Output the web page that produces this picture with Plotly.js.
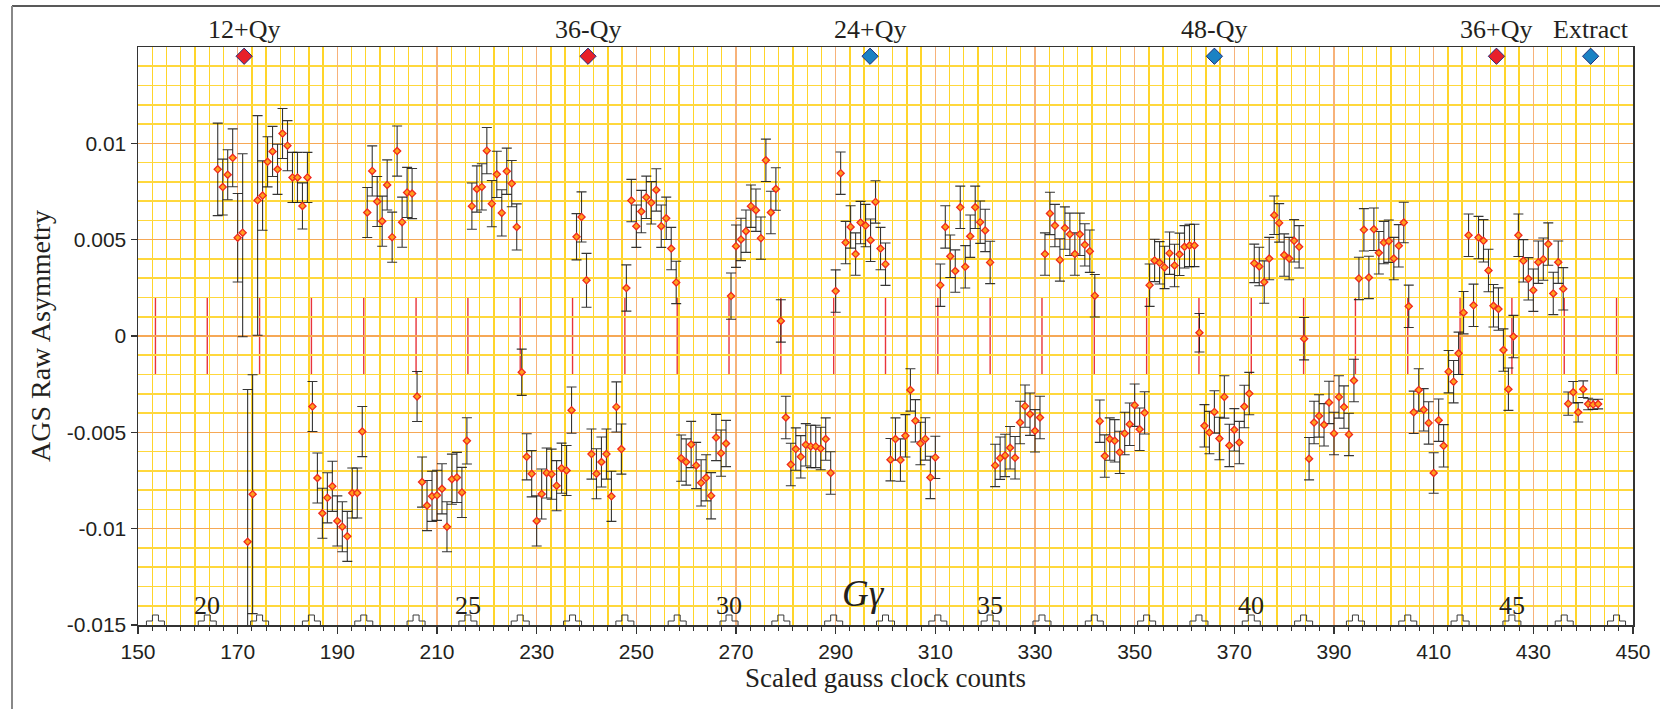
<!DOCTYPE html>
<html>
<head>
<meta charset="utf-8">
<script src="https://cdn.plot.ly/plotly-3.0.1.min.js"></script>
<style>
html,body{margin:0;padding:0;background:#ffffff;}
#chart{width:1660px;height:709px;}
</style>
</head>
<body>
<div id="chart"></div>
<script>
// ---- data ----
const clockCounts = [
166,167,168,169,170,171,172,173,174,175,
176,177,178,179,180,181,182,183,184,185,
186,187,188,189,190,191,192,193,194,195,
196,197,198,199,200,201,202,203,204,205,
206,207,208,209,210,211,212,213,214,215,
216,217,218,219,220,221,222,223,224,225,
226,227,228,229,230,231,232,233,234,235,
236,237,238,239,240,241,242,243,244,245,
246,247,248,249,250,251,252,253,254,255,
256,257,258,259,260,261,262,263,264,265,
266,267,268,269,270,271,272,273,274,275,
276,277,278,279,280,281,282,283,284,285,
286,287,288,289,290,291,292,293,294,295,
296,297,298,299,300,301,302,303,304,305,
306,307,308,309,310,311,312,313,314,315,
316,317,318,319,320,321,322,323,324,325,
326,327,328,329,330,331,332,333,334,335,
336,337,338,339,340,341,342,343,344,345,
346,347,348,349,350,351,352,353,354,355,
356,357,358,359,360,361,362,363,364,365,
366,367,368,369,370,371,372,373,374,375,
376,377,378,379,380,381,382,383,384,385,
386,387,388,389,390,391,392,393,394,395,
396,397,398,399,400,401,402,403,404,405,
406,407,408,409,410,411,412,413,414,415,
416,417,418,419,420,421,422,423,424,425,
426,427,428,429,430,431,432,433,434,435,
436,437,438,439,440,441,442,443
];
const asymmetry = [
0.00865,0.00773,0.00837,0.00925,0.0051,0.00536,-0.01068,-0.00821,0.00704,0.00729,
0.00904,0.00958,0.00865,0.01051,0.00988,0.00823,0.00823,0.00675,0.00823,-0.00366,
-0.00737,-0.0092,-0.0084,-0.0078,-0.0096,-0.0099,-0.0104,-0.00815,-0.00815,-0.00496,
0.00641,0.00857,0.00698,0.00596,0.00784,0.00513,0.0096,0.00591,0.00745,0.00739,
-0.00314,-0.00758,-0.0088,-0.00832,-0.00827,-0.00793,-0.0099,-0.00743,-0.00734,-0.00812,
-0.00544,0.00674,0.00763,0.00774,0.00962,0.00687,0.00839,0.00639,0.00855,0.00791,
0.00566,-0.00188,-0.00627,-0.00715,-0.0096,-0.0082,-0.00711,-0.00717,-0.00777,-0.00686,
-0.00698,-0.00385,0.00515,0.00618,0.00289,-0.00613,-0.00715,-0.00654,-0.00613,-0.00832,
-0.00368,-0.00587,0.00249,0.00703,0.0057,0.00646,0.0072,0.00691,0.00758,0.0057,
0.00611,0.00454,0.00278,-0.00634,-0.00654,-0.00563,-0.00672,-0.00762,-0.00736,-0.00829,
-0.00527,-0.00608,-0.00558,0.00207,0.00466,0.00501,0.00544,0.00674,0.00653,0.00508,
0.00912,0.00641,0.00763,0.00078,-0.00423,-0.00667,-0.00587,-0.00627,-0.00565,-0.00573,
-0.00573,-0.00584,-0.00535,-0.00711,0.00233,0.00845,0.00485,0.00566,0.00425,0.00589,
0.00573,0.00497,0.00696,0.00454,0.00373,-0.00642,-0.00535,-0.00644,-0.00518,-0.0028,
-0.0044,-0.00558,-0.00534,-0.00734,-0.0063,0.00264,0.00566,0.00414,0.00337,0.00668,
0.00359,0.00518,0.00668,0.00591,0.00548,0.00382,-0.00672,-0.00634,-0.0062,-0.0058,
-0.00632,-0.00449,-0.00364,-0.00406,-0.00492,-0.00423,0.00425,0.00636,0.00573,0.00395,
0.0056,0.00528,0.00425,0.00528,0.00473,0.0044,0.00209,-0.00442,-0.00623,-0.00535,
-0.00544,-0.00604,-0.00506,-0.00458,-0.00359,-0.00484,-0.00399,0.00264,0.00392,0.0038,
0.00356,0.0043,0.00366,0.00424,0.00463,0.0047,0.0047,0.00017,-0.00466,-0.00501,
-0.00394,-0.00532,-0.00316,-0.00568,-0.00487,-0.00553,-0.00366,-0.00299,0.00377,0.00361,
0.0028,0.00402,0.00627,0.00587,0.0042,0.00402,0.00494,0.00463,-0.00014,-0.00637,
-0.00449,-0.00415,-0.00461,-0.00345,-0.00506,-0.00316,-0.00369,-0.00511,-0.00231,0.00299,
0.00551,0.00304,0.00554,0.00432,0.00485,0.00492,0.00402,0.00468,0.00589,0.00154,
-0.00396,-0.0028,-0.00383,-0.00451,-0.00711,-0.00437,-0.0057,-0.00185,-0.00237,-0.0009,
0.00121,0.00523,0.00159,0.00511,0.00494,0.0034,0.00157,0.0014,-0.00073,-0.00276,
-0.00003,0.00523,0.0039,0.00297,0.00238,0.00383,0.00399,0.00477,0.00221,0.00383,
0.00245,-0.00351,-0.00292,-0.00396,-0.00276,-0.00353,-0.00356,-0.00353
];
const asymErr = [
0.0024,0.00145,0.0013,0.0015,0.0023,0.0041,0.0079,0.0062,0.0044,0.0018,
0.0013,0.0013,0.0013,0.0013,0.0013,0.0013,0.0013,0.0012,0.0013,0.0013,
0.0013,0.0013,0.0013,0.0013,0.0013,0.0013,0.0013,0.0013,0.0013,0.0013,
0.0013,0.0013,0.0013,0.0013,0.0013,0.0013,0.0013,0.0013,0.0013,0.0013,
0.0013,0.0013,0.0013,0.0013,0.0013,0.0013,0.0013,0.0013,0.0013,0.0013,
0.0012,0.0012,0.0012,0.0012,0.0012,0.0012,0.0012,0.0012,0.0012,0.0012,
0.0012,0.0012,0.0012,0.0012,0.0013,0.0013,0.0013,0.0013,0.0013,0.0013,
0.0013,0.0012,0.0012,0.0013,0.0014,0.0013,0.0013,0.0013,0.0013,0.0013,
0.0013,0.0013,0.0012,0.0011,0.0011,0.0011,0.0011,0.0011,0.0011,0.0011,
0.0011,0.0011,0.0011,0.0012,0.0012,0.0012,0.0012,0.0012,0.0012,0.0012,
0.0012,0.0012,0.0012,0.0012,0.0011,0.0011,0.0011,0.0011,0.0011,0.0011,
0.0011,0.0011,0.0011,0.0011,0.0011,0.0011,0.0011,0.0011,0.0011,0.0011,
0.0011,0.0011,0.0011,0.0011,0.0011,0.0011,0.0011,0.0011,0.0011,0.0011,
0.0011,0.0011,0.0011,0.0011,0.0011,0.0011,0.0011,0.0011,0.0011,0.0011,
0.0011,0.0011,0.0011,0.0011,0.0011,0.0011,0.0011,0.0011,0.0011,0.0011,
0.0011,0.0011,0.0011,0.0011,0.0011,0.0011,0.0011,0.0011,0.0011,0.0011,
0.0011,0.0011,0.0011,0.0011,0.0011,0.0011,0.0011,0.0011,0.0011,0.0011,
0.0011,0.0011,0.0011,0.0011,0.0011,0.0011,0.0011,0.0011,0.0011,0.0011,
0.0011,0.0011,0.0011,0.0011,0.0011,0.0011,0.0011,0.0011,0.0011,0.0011,
0.0011,0.0011,0.0011,0.0011,0.0011,0.0011,0.0011,0.001,0.0011,0.0011,
0.0011,0.0011,0.0011,0.0011,0.0011,0.0011,0.0011,0.0011,0.001,0.001,
0.0011,0.0011,0.001,0.001,0.0011,0.0011,0.0011,0.0011,0.0011,0.0011,
0.0011,0.0011,0.0011,0.0011,0.0011,0.0011,0.0011,0.0011,0.0011,0.0011,
0.0011,0.0011,0.0011,0.0011,0.0011,0.0011,0.0011,0.0011,0.00105,0.0011,
0.0011,0.0011,0.0011,0.0011,0.00105,0.0011,0.0011,0.0011,0.0011,0.0011,
0.0011,0.0011,0.0011,0.0011,0.0011,0.0011,0.0011,0.0011,0.0011,0.0011,
0.0011,0.0011,0.0011,0.0011,0.0011,0.0011,0.0011,0.0011,0.0011,0.0011,
0.0011,0.0006,0.00056,0.0005,0.00043,0.0003,0.00025,0.00025
];
// points whose lower error bar differs from the upper one
const asymLowX = [171, 174];
const asymLowErr = [0.0054, 0.0070];

// G-gamma integer positions on the clock-count axis
const gammaValues = [19,20,21,22,23,24,25,26,27,28,29,30,31,32,33,34,35,36,37,38,39,40,41,42,43,44,45,46,47];
const gammaBarX = [153.5,163.9,174.4,184.8,195.3,205.8,216.2,226.7,237.2,247.7,258.2,268.6,279.0,289.6,300.0,310.5,321.0,331.4,341.9,352.4,362.9,373.4,383.9,394.3,404.8,415.3,425.7,436.2,446.7];
const gammaLabelValues = [20,25,30,35,40,45];
const gammaBarHalf = 0.002;

// resonance / event markers along the top
const eventLabels = ['12+Qy','36-Qy','24+Qy','48-Qy','36+Qy','Extract'];
const eventX = [171.3,240.3,296.9,366.0,422.6,441.5];
const eventKind = ['intrinsic','intrinsic','imperfection','imperfection','intrinsic','imperfection'];

const yTickVals = [-0.015,-0.01,-0.005,0,0.005,0.01];
const yTickText = ['-0.015','-0.01','-0.005','0','0.005','0.01'];

// ---- build figure ----
const X_RANGE = [150,450], Y_RANGE = [-0.015,0.015];
const M = {l:138, r:27, t:47, b:84};
const W = 1660, H = 709;
const plotW = W - M.l - M.r, plotH = H - M.t - M.b;
const ux = (X_RANGE[1]-X_RANGE[0])/plotW, uy = (Y_RANGE[1]-Y_RANGE[0])/plotH;

const errLow = asymErr.slice();
asymLowX.forEach((xv,i)=>{ const k = clockCounts.indexOf(xv); if(k>=0) errLow[k]=asymLowErr[i]; });

// little step symbols on the bottom axis at each G-gamma value
const bumpShape = [[-9,0],[-9,4],[-3,4],[-3,10],[3,10],[3,4],[9,4],[9,0]];
const bumpX = [], bumpY = [];
gammaBarX.forEach(g=>{
  bumpShape.forEach(p=>{ bumpX.push(g + p[0]*ux); bumpY.push(Y_RANGE[0] + p[1]*uy); });
  bumpX.push(null); bumpY.push(null);
});

const kindColor = {intrinsic:'#e8202a', imperfection:'#1b82c4'};

const traces = [
  {
    type:'scatter', mode:'lines', x:bumpX, y:bumpY, connectgaps:false,
    line:{color:'#3a3a3a', width:1}, hoverinfo:'skip', cliponaxis:false
  },
  {
    type:'scatter', mode:'markers', x:clockCounts, y:asymmetry,
    marker:{symbol:'diamond', size:5.5, color:'#ffa01e', line:{color:'#f0281e', width:1.3}},
    error_y:{type:'data', symmetric:false, array:asymErr, arrayminus:errLow,
             color:'rgba(25,25,25,0.88)', thickness:1.1, width:5}
  },
  {
    type:'scatter', mode:'markers', x:eventX, y:eventX.map(()=>0.01452),
    marker:{symbol:'diamond', size:12.5, color:eventKind.map(k=>kindColor[k]), line:{color:'#22307a', width:1}},
    cliponaxis:false, hoverinfo:'skip'
  }
];

const shapes = [];
gammaBarX.forEach(g=>{
  shapes.push({type:'line', xref:'x', yref:'y', x0:g, x1:g, y0:-gammaBarHalf, y1:gammaBarHalf,
               line:{color:'#e8343c', width:1.4}, layer:'below'});
});
// outer frame (top and left edges visible)
const px2paperX = p => (p - M.l)/plotW;
const px2paperY = p => 1 - (p - M.t)/plotH;
shapes.push({type:'line', xref:'paper', yref:'paper', x0:px2paperX(12), x1:px2paperX(1665), y0:px2paperY(6), y1:px2paperY(6), line:{color:'#222', width:1.5}});
shapes.push({type:'line', xref:'paper', yref:'paper', x0:px2paperX(12), x1:px2paperX(12), y0:px2paperY(6), y1:px2paperY(715), line:{color:'#888', width:2}});

const annotations = [];
eventLabels.forEach((t,i)=>{
  annotations.push({text:t, x:eventX[i], xref:'x', y:1, yref:'paper', yanchor:'bottom', xanchor:'center',
    showarrow:false, yshift:1, font:{family:'Liberation Serif, Times New Roman, serif', size:26, color:'#231f20'}});
});
gammaLabelValues.forEach(v=>{
  const k = gammaValues.indexOf(v);
  annotations.push({text:String(v), x:gammaBarX[k], xref:'x', y:-0.01397, yref:'y', yanchor:'middle', xanchor:'center',
    showarrow:false, font:{family:'Liberation Serif, Times New Roman, serif', size:26, color:'#231f20'}});
});
annotations.push({text:'<i>Gγ</i>', x:295.6, xref:'x', y:-0.01337, yref:'y', xanchor:'center', yanchor:'middle',
  showarrow:false, font:{family:'Liberation Serif, Times New Roman, serif', size:37, color:'#231f20'}});

const axisFont = {family:'Liberation Sans, Arial, sans-serif', size:21, color:'#231f20'};
const layout = {
  width:W, height:H, margin:M, paper_bgcolor:'#ffffff', plot_bgcolor:'#ffffff', showlegend:false,
  xaxis:{
    range:X_RANGE, tickmode:'linear', tick0:150, dtick:20,
    ticks:'outside', ticklen:7, tickwidth:1.2, tickcolor:'#333',
    showgrid:true, gridcolor:'#f7b27a', gridwidth:1.4,
    showline:true, mirror:true, linecolor:'#333', linewidth:1.5, zeroline:false,
    tickfont:axisFont,
    minor:{tickmode:'linear', tick0:150, dtick:20/7, ticks:'outside', ticklen:4, tickwidth:1, tickcolor:'#333',
           showgrid:true, gridcolor:'#ffd52a', gridwidth:1.3},
    title:{text:'Scaled gauss clock counts', font:{family:'Liberation Serif, Times New Roman, serif', size:27, color:'#231f20'}, standoff:6}
  },
  yaxis:{
    range:Y_RANGE, tickmode:'array', tickvals:yTickVals, ticktext:yTickText,
    ticks:'outside', ticklen:6, tickwidth:1.2, tickcolor:'#333',
    showgrid:true, gridcolor:'#f6a856', gridwidth:1.5,
    showline:true, mirror:true, linecolor:'#333', linewidth:1.5, zeroline:false,
    tickfont:axisFont,
    minor:{tickmode:'linear', tick0:-0.015, dtick:0.001, showgrid:true, gridcolor:'#ffd83c', gridwidth:1.6},
    title:{text:'AGS Raw Asymmetry', font:{family:'Liberation Serif, Times New Roman, serif', size:28, color:'#231f20'}, standoff:8}
  },
  shapes:shapes,
  annotations:annotations
};

Plotly.newPlot('chart', traces, layout, {displayModeBar:false, staticPlot:true});
</script>
</body>
</html>
